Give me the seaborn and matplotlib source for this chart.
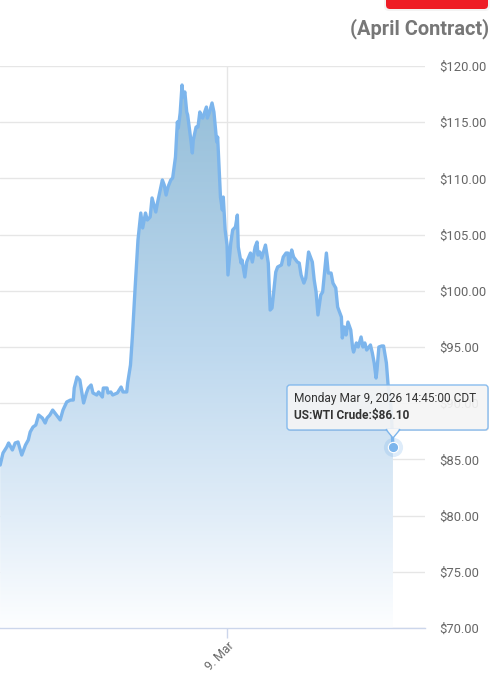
import matplotlib
matplotlib.use("Agg")
import matplotlib.pyplot as plt
import matplotlib.dates as mdates
from matplotlib.colors import LinearSegmentedColormap
from matplotlib.patches import FancyBboxPatch, Polygon
from matplotlib.transforms import IdentityTransform
import numpy as np
import pandas as pd
import seaborn as sns

# minutes relative to Mon 9 Mar 2026 00:00 (ordinal trading time)
MINUTES = [
    -1210, -1195, -1175, -1165, -1145, -1130, -1115, -1095, -1075, -1060,
    -1050, -1035, -1020, -1005, -985, -970, -960, -945, -930, -910,
    -890, -875, -855, -835, -820, -815, -800, -785, -775, -765,
    -750, -740, -725, -715, -695, -685, -665, -660, -640, -635,
    -620, -610, -585, -565, -555, -535, -530,
    -515, -505, -490, -475, -460, -450, -435, -425, -410, -400,
    -380, -370, -345, -335, -325, -315, -300, -290, -275, -265,
    -260, -250, -240, -235, -225, -215, -210, -195, -185, -180,
    -165, -155, -145, -135, -130, -110, -105, -95, -80, -70,
    -55, -50, -35, -25, -20, -10, 0, 5,
    20, 30, 45, 55, 60, 75, 80, 95, 105, 125,
    135, 150, 160, 165, 175, 185, 205, 220, 230, 240,
    250, 260, 270, 290, 300, 315, 325, 330, 340, 345,
    355, 375, 385,
    395, 410, 420, 435, 455, 465, 475, 485, 500, 510,
    530, 540, 555, 565, 580, 590, 610, 615, 625, 635,
    645, 660, 670, 675, 690, 700, 715, 725, 735, 745,
    765, 775, 785, 795, 800, 810, 825, 835, 850, 860,
    875, 885,
]
PRICES = [
    84.50, 85.57, 86.10, 86.46, 85.84, 86.46, 86.55, 85.39, 86.28, 86.73,
    87.44, 87.88, 88.06, 88.95, 88.68, 88.24, 88.68, 88.95, 89.39, 88.95,
    88.51, 89.39, 90.11, 90.28, 90.28, 91.35, 92.33, 92.06, 91.00, 90.02,
    90.91, 91.35, 91.62, 90.91, 90.73, 91.00, 90.55, 91.35, 91.35, 90.91,
    91.00, 90.73, 90.91, 91.44, 91.00, 91.00, 91.80,
    93.40, 95.89, 100.34, 104.52, 106.92, 105.59, 106.92, 106.30, 106.57, 108.26,
    107.01, 107.90, 109.86, 109.41, 108.52, 109.23, 109.86, 110.04, 111.90, 115.02,
    114.48, 115.82, 118.31, 117.24, 117.69, 115.91, 115.64, 113.68, 112.26, 113.42,
    114.57, 114.57, 115.91, 115.46, 115.37, 116.35, 115.37, 115.82, 116.71, 115.91,
    113.24, 113.68, 108.34, 107.19, 108.34, 105.41, 104.07, 101.41,
    104.25, 105.41, 105.68, 106.74, 103.90, 102.47, 102.74, 101.23, 102.56, 103.36,
    102.56, 103.90, 104.34, 103.18, 103.45, 102.92, 104.07, 102.47, 98.29, 98.47,
    100.07, 101.67, 102.12, 102.30, 103.01, 103.36, 103.36, 102.30, 103.18, 103.63,
    103.01, 102.56, 102.47,
    101.41, 100.69, 101.14, 103.45, 102.56, 100.96, 99.89, 97.85, 99.63, 99.89,
    103.36, 101.58, 101.58, 100.69, 100.25, 98.56, 97.67, 95.80, 96.78, 96.07,
    97.22, 96.51, 94.91, 94.55, 95.36, 95.00, 95.89, 95.00, 95.36, 94.73,
    95.18, 94.47, 93.58, 92.24, 92.95, 95.00, 95.09, 95.09, 93.58, 91.44,
    89.66, 86.10,
]
Y_TICKS = [70, 75, 80, 85, 90, 95, 100, 105, 110, 115, 120]
TITLE = "(April Contract)"
SERIES_NAME = "US:WTI Crude"
HOVER_LABEL = "Monday Mar 9, 2026 14:45:00 CDT"

LINE_COLOR = "#7cb5ec"
GRID_COLOR = "#e6e6e6"
AXIS_COLOR = "#ccd6eb"
LABEL_COLOR = "#666666"

sns.set_theme(style="white")
plt.rcParams["font.family"] = ["Roboto", "DejaVu Sans"]

base = pd.Timestamp("2026-03-09")
df = pd.DataFrame({
    "time": base + pd.to_timedelta(MINUTES, unit="min"),
    "price": PRICES,
})

W, H = 499, 674
fig = plt.figure(figsize=(W / 100, H / 100), dpi=100)
ax = fig.add_axes([0, 1 - 628 / H, 425 / W, (628 - 66) / H])

# gradient area under the line
poly = ax.fill_between(df["time"], df["price"], 70, color="none", lw=0)
xnum = mdates.date2num(df["time"])
fill_cmap = LinearSegmentedColormap.from_list(
    "fill",
    [(0.0, "#fdfeff"), (0.2, "#e1edf8"), (0.5, "#bdd8ee"), (0.96, "#96bfd9"), (1.0, "#93bdd8")],
)
im = ax.imshow(
    np.linspace(0, 1, 256).reshape(-1, 1), extent=[xnum.min(), xnum.max(), 70, 120],
    origin="lower", aspect="auto", cmap=fill_cmap, zorder=1,
)
im.set_clip_path(poly.get_paths()[0], transform=ax.transData)

sns.lineplot(data=df, x="time", y="price", color=LINE_COLOR, lw=2.4, ax=ax, zorder=3)

# hovered last point
last_t, last_p = df["time"].iloc[-1], df["price"].iloc[-1]
ax.scatter([last_t], [last_p], s=190, color=LINE_COLOR, alpha=0.25, lw=0, zorder=4)
ax.scatter([last_t], [last_p], s=55, color=LINE_COLOR, edgecolor="white", lw=0.8, zorder=5)

ax.set_ylim(70, 120)
ax.set_xlim(base - pd.Timedelta(minutes=1211), base + pd.Timedelta(minutes=1056))
ax.set_yticks(Y_TICKS)
ax.set_yticklabels([f"${v:.2f}" for v in Y_TICKS])
ax.yaxis.tick_right()
ax.tick_params(axis="y", length=0, pad=10.5, labelsize=9.4, labelcolor=LABEL_COLOR)

ax.set_xticks([base])
ax.xaxis.set_major_formatter(mdates.DateFormatter("%-d. %b"))
ax.tick_params(axis="x", length=7.2, width=1, color=AXIS_COLOR, pad=1,
               labelsize=8.8, labelcolor=LABEL_COLOR, bottom=True)
for lab in ax.get_xticklabels():
    lab.set_rotation(45)
    lab.set_ha("right")
    lab.set_va("top")
    lab.set_rotation_mode("anchor")

ax.grid(True, axis="both", color=GRID_COLOR, lw=1)
ax.set_axisbelow(True)
ax.set_xlabel("")
ax.set_ylabel("")
for side in ["top", "left", "right"]:
    ax.spines[side].set_visible(False)
ax.spines["bottom"].set_color(AXIS_COLOR)
ax.spines["bottom"].set_linewidth(1)

# title and partial red button (pixel coordinates, origin bottom-left)
px = IdentityTransform()
fig.text(489 / W, 1 - 29 / H, TITLE, ha="right", va="center",
         fontsize=14.4, weight="bold", color="#777777")
fig.patches.append(FancyBboxPatch(
    (384, H - 11), 106, 30, boxstyle="round,pad=0,rounding_size=5",
    transform=px, facecolor="#dddddd", edgecolor="none", alpha=0.35, figure=fig))
fig.patches.append(FancyBboxPatch(
    (386, H - 9), 102, 30, boxstyle="round,pad=0,rounding_size=4",
    transform=px, facecolor="#ee1c25", edgecolor="none", figure=fig))

# tooltip
bx0, by0, bw, bh = 287, H - 430, 201, 45
fig.patches.append(FancyBboxPatch(
    (bx0 + 1, by0 - 1), bw, bh, boxstyle="round,pad=0,rounding_size=3",
    transform=px, facecolor="#000000", edgecolor="none", alpha=0.08, figure=fig, zorder=9))
fig.patches.append(FancyBboxPatch(
    (bx0, by0), bw, bh, boxstyle="round,pad=0,rounding_size=3",
    transform=px, facecolor="#f7f7f7", edgecolor=LINE_COLOR, lw=1, alpha=0.9,
    figure=fig, zorder=10))
fig.patches.append(Polygon(
    [(386, by0 + 0.5), (393, by0 - 8), (400, by0 + 0.5)], closed=True,
    transform=px, facecolor="#f7f7f7", edgecolor=LINE_COLOR, lw=1, figure=fig, zorder=10))
fig.patches.append(Polygon(
    [(386.5, by0 + 1.5), (399.5, by0 + 1.5), (393, by0 - 6)], closed=True,
    transform=px, facecolor="#f7f7f7", edgecolor="none", figure=fig, zorder=11))
fig.text(294 / W, 1 - 399 / H, HOVER_LABEL, ha="left", va="center",
         fontsize=8.6, color="#333333", zorder=12)
fig.text(294 / W, 1 - 416 / H, f"{SERIES_NAME}:${PRICES[-1]:.2f}", ha="left", va="center",
         fontsize=8.6, weight="bold", color="#333333", zorder=12)

fig.savefig("out.png", dpi=100)
